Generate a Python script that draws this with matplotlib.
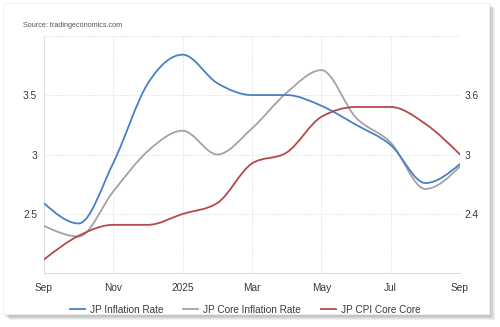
import matplotlib
matplotlib.use("Agg")
import matplotlib.pyplot as plt
from matplotlib.lines import Line2D
from matplotlib.patches import FancyBboxPatch, PathPatch
from matplotlib.path import Path
import numpy as np

plt.rcParams["font.family"] = ["Liberation Sans", "DejaVu Sans"]

# monthly readings, Sep 2024 .. Sep 2025
months = ["Sep", "Oct", "Nov", "Dec", "Jan", "Feb", "Mar",
          "Apr", "May", "Jun", "Jul", "Aug", "Sep"]
inflation = [2.59, 2.42, 2.93, 3.60, 3.84, 3.60, 3.50,
             3.50, 3.41, 3.25, 3.08, 2.76, 2.92]
core_inflation = [2.40, 2.31, 2.69, 3.03, 3.20, 3.00, 3.22,
                  3.52, 3.71, 3.31, 3.10, 2.71, 2.90]
core_core = [1.94, 2.18, 2.29, 2.29, 2.40, 2.51, 2.91,
             3.02, 3.38, 3.48, 3.48, 3.31, 3.00]

tick_pos = [0, 2, 4, 6, 8, 10, 12]
tick_labels = ["Sep", "Nov", "2025", "Mar", "May", "Jul", "Sep"]
left_ticks = [2.5, 3, 3.5, 4]
left_labels = ["2.5", "3", "3.5", ""]
right_ticks = [2.4, 3, 3.6, 4.2]
right_labels = ["2.4", "3", "3.6", ""]

_BLUE = "#4a7fc6"
_GRAY = "#a3a3a3"
_RED = "#b5494c"
_TXT = "#3a3a3a"
_GRID = "#e8e8e8"


def _monotone_path(x, y):
    """Cubic bezier path through the points, monotone between them."""
    x = np.asarray(x, float)
    y = np.asarray(y, float)
    h = np.diff(x)
    s = np.diff(y) / h
    m = np.zeros(len(x))
    for i in range(1, len(x) - 1):
        p = (s[i - 1] * h[i] + s[i] * h[i - 1]) / (h[i - 1] + h[i])
        m[i] = (np.sign(s[i - 1]) + np.sign(s[i])) * min(
            abs(s[i - 1]), abs(s[i]), 0.5 * abs(p))
    m[0] = (3 * s[0] - m[1]) / 2
    m[-1] = (3 * s[-1] - m[-2]) / 2
    verts = [(x[0], y[0])]
    codes = [Path.MOVETO]
    for i in range(len(x) - 1):
        d = h[i] / 3
        verts += [(x[i] + d, y[i] + m[i] * d),
                  (x[i + 1] - d, y[i + 1] - m[i + 1] * d),
                  (x[i + 1], y[i + 1])]
        codes += [Path.CURVE4] * 3
    return Path(verts, codes)


def _draw_curve(ax, y, color):
    xs = np.arange(len(y))
    ax.add_patch(PathPatch(_monotone_path(xs, y), fill=False,
                           edgecolor=color, lw=1.3, capstyle="round",
                           zorder=3))


fig = plt.figure(figsize=(5.0, 3.27), dpi=100)

# card with soft shadow
for k, a in enumerate([0.10, 0.10, 0.12, 0.14]):
    off = (4 - k) * 0.0025
    fig.patches.append(FancyBboxPatch(
        (0.008 + off, 0.035 - off * 1.5), 0.972, 0.955,
        boxstyle="square,pad=0", transform=fig.transFigure,
        facecolor="#707070", edgecolor="none", alpha=a, zorder=0))
fig.patches.append(FancyBboxPatch(
    (0.006, 0.040), 0.972, 0.952, boxstyle="square,pad=0",
    transform=fig.transFigure, facecolor="white",
    edgecolor="#f0f0f0", lw=0.6, zorder=1))

ax = fig.add_axes([0.088, 0.164, 0.832, 0.727])
ax.set_zorder(3)
ax.patch.set_visible(False)
ax2 = ax.twinx()

ax.set_xlim(0, len(months) - 1)
ax.set_ylim(2.0, 4.0)
ax2.set_ylim(1.8, 4.2)

ax.set_xticks(tick_pos)
ax.set_xticklabels(tick_labels)
ax.set_yticks(left_ticks)
ax.set_yticklabels(left_labels)
ax2.set_yticks(right_ticks)
ax2.set_yticklabels(right_labels)

ax.grid(True, color=_GRID, lw=0.7, ls=(0, (2, 1)))
for a in (ax, ax2):
    for name, spine in a.spines.items():
        spine.set_visible(False)
    a.tick_params(length=0, labelsize=7.3, colors=_TXT)
ax.spines["bottom"].set_visible(True)
ax.spines["bottom"].set_color("#dcdcdc")
ax.spines["left"].set_visible(True)
ax.spines["left"].set_color("#e0e0e0")
ax.tick_params(axis="x", pad=7)
ax.tick_params(axis="y", pad=5)
ax2.tick_params(axis="y", pad=3)

_draw_curve(ax2, core_core, _RED)
_draw_curve(ax, core_inflation, _GRAY)
_draw_curve(ax, inflation, _BLUE)

fig.text(0.046, 0.923, "Source: tradingeconomics.com", fontsize=5.2,
         color="#555555", va="center")

handles = [Line2D([], [], color=_BLUE, lw=1.3),
           Line2D([], [], color=_GRAY, lw=1.3),
           Line2D([], [], color=_RED, lw=1.3)]
fig.legend(handles, ["JP Inflation Rate", "JP Core Inflation Rate",
                     "JP CPI Core Core"],
           loc="center", bbox_to_anchor=(0.49, 0.053), ncol=3,
           frameon=False, fontsize=7.2, handlelength=1.5,
           handletextpad=0.5, columnspacing=2.0, labelcolor=_TXT)

fig.savefig("out.png", dpi=100, facecolor="white")
